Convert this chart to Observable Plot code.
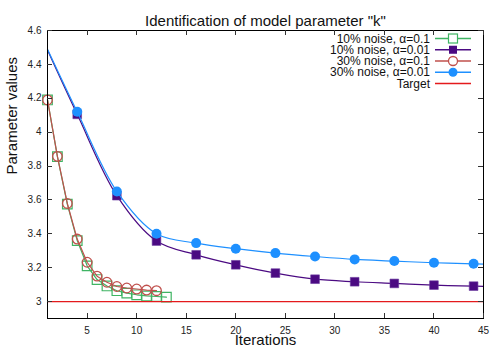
<!DOCTYPE html>
<html><head><meta charset="utf-8">
<script src="https://cdn.jsdelivr.net/npm/d3@7"></script>
<script src="https://cdn.jsdelivr.net/npm/@observablehq/plot@0.6"></script>
<style>
body{margin:0;background:#fff}
#wrap{position:relative;width:500px;height:350px}
#wrap svg{font-family:"Liberation Sans",Arial,sans-serif}
#legend{position:absolute;left:0;top:0}
</style>
</head><body><div id="wrap"></div>
<script>
// ---- data ----
const iterGreen = [1,2,3,4,5,6,7,8,9,10,11,12,13];
const noise10_a01 = [4.19,3.855,3.575,3.36,3.211,3.13,3.092,3.064,3.05,3.04,3.033,3.03,3.026];
const iterRed = [1,2,3,4,5,6,7,8,9,10,11,12];
const noise30_a01 = [4.19,3.857,3.579,3.369,3.232,3.15,3.114,3.089,3.08,3.074,3.068,3.064];
const iterSlow = [1,4,8,12,16,20,24,28,32,36,40,44,45];
const noise10_a001 = [4.485,4.105,3.625,3.357,3.276,3.217,3.168,3.132,3.117,3.107,3.097,3.091,3.09];
const noise30_a001 = [4.49,4.12,3.65,3.40,3.345,3.312,3.286,3.266,3.249,3.239,3.229,3.223,3.221];
const targetValue = 3;
const xTicks = [5,10,15,20,25,30,35,40,45];
const yTicks = [3,3.2,3.4,3.6,3.8,4,4.2,4.4,4.6];
const xDomain = [1,45];
const yDomain = [2.9,4.6];
const seriesNames = ["10% noise, \u03b1=0.1","10% noise, \u03b1=0.01","30% noise, \u03b1=0.1","30% noise, \u03b1=0.01","Target"];
const titleText = 'Identification of model parameter "k"';
const xLabel = "Iterations";
const yLabel = "Parameter values";

// ---- layout / styles ----
const W = 500, H = 350, mL = 47, mR = 17, mT = 30, mB = 32, TICK = 5;
const C = {green:"#3fb463", purple:"#4b0a82", red:"#c0504d", blue:"#1e90ff", target:"#e41a1c"};

const zip = (xs, ys) => xs.map((x,i)=>({x, y: ys[i]}));
const green = zip(iterGreen, noise10_a01);
const redS = zip(iterRed, noise30_a01);
const purple = zip(iterSlow, noise10_a001);
const blue = zip(iterSlow, noise30_a001);
const markerOnly = d => d.x % 4 === 0;
const fmt = d => String(+d.toFixed(2));

const chart = Plot.plot({
  width:W, height:H,
  marginLeft:mL, marginRight:mR, marginTop:mT, marginBottom:mB,
  style:{fontFamily:"'Liberation Sans', Arial, sans-serif", background:"white", color:"#222"},
  x:{domain:xDomain},
  y:{domain:yDomain},
  marks:[
    // green
    Plot.line(green, {x:"x", y:"y", stroke:C.green, strokeWidth:1.2}),
    Plot.dot(green, {x:"x", y:"y", symbol:"square", r:5.4, stroke:C.green, strokeWidth:1.2, fill:"none"}),
    // purple
    Plot.line(purple, {x:"x", y:"y", stroke:C.purple, strokeWidth:1.2, curve:"catmull-rom"}),
    Plot.dot(purple.filter(markerOnly), {x:"x", y:"y", symbol:"square", r:4.9, fill:C.purple, stroke:"#6a3aa0", strokeWidth:0.6}),
    // red
    Plot.line(redS, {x:"x", y:"y", stroke:C.red, strokeWidth:1.2}),
    Plot.dot(redS, {x:"x", y:"y", r:4.8, stroke:C.red, strokeWidth:1.3, fill:"none"}),
    // blue
    Plot.line(blue, {x:"x", y:"y", stroke:C.blue, strokeWidth:1.2, curve:"catmull-rom"}),
    Plot.dot(blue.filter(markerOnly), {x:"x", y:"y", r:5, fill:C.blue}),
    // target
    Plot.ruleY([targetValue], {stroke:C.target, strokeWidth:1.3}),
    // frame & axis labels
    Plot.frame({stroke:"#000", strokeWidth:1}),
    Plot.axisX({ticks:xTicks, anchor:"bottom", tickSize:0, tickPadding:8, fontSize:10, label:null, tickFormat:fmt}),
    Plot.axisY({ticks:yTicks, anchor:"left", tickSize:0, tickPadding:6, fontSize:10, label:null, tickFormat:fmt}),
    // texts
    Plot.text([titleText], {frameAnchor:"top", dy:-15, fontSize:15, fill:"#111"}),
    Plot.text([xLabel], {frameAnchor:"bottom", dy:26, fontSize:15, fill:"#111"}),
    Plot.text([yLabel], {frameAnchor:"left", dx:-35, rotate:-90, fontSize:15, fill:"#111"})
  ]
});
const wrap = document.getElementById("wrap");
wrap.appendChild(chart);

// ---- overlay: inward ticks (via Plot's scales) and legend ----
const sx = chart.scale("x"), sy = chart.scale("y");
const lg = d3.select(wrap).append("svg").attr("id","legend").attr("width",W).attr("height",H);
const yBot = sy.apply(yDomain[0]), yTop = sy.apply(yDomain[1]);
const xLeft = sx.apply(xDomain[0]), xRight = sx.apply(xDomain[1]);
const tg = lg.append("g").attr("stroke","#333").attr("stroke-width",1);
xTicks.forEach(t=>{
  const px = Math.round(sx.apply(t)) + 0.5;
  tg.append("line").attr("x1",px).attr("x2",px).attr("y1",yBot).attr("y2",yBot-TICK);
  tg.append("line").attr("x1",px).attr("x2",px).attr("y1",yTop).attr("y2",yTop+TICK);
});
yTicks.forEach(t=>{
  const py = Math.round(sy.apply(t)) + 0.5;
  tg.append("line").attr("y1",py).attr("y2",py).attr("x1",xLeft).attr("x2",xLeft+TICK);
  tg.append("line").attr("y1",py).attr("y2",py).attr("x1",xRight).attr("x2",xRight-TICK);
});

const legendColors = [C.green, C.purple, C.red, C.blue, C.target];
const legendMarks = ["sqOpen","sqFill","circOpen","circFill",null];
seriesNames.forEach((name,i)=>{
  const y = 38.5 + i*11.25;
  lg.append("text").attr("x",430).attr("y",y).attr("dy","0.35em").attr("text-anchor","end")
    .attr("font-size",12).attr("fill","#111").text(name);
  lg.append("line").attr("x1",435).attr("x2",471).attr("y1",y).attr("y2",y)
    .attr("stroke",legendColors[i]).attr("stroke-width",1.3);
  const m = legendMarks[i], cx = 453;
  if (m==="sqOpen") lg.append("rect").attr("x",cx-4.5).attr("y",y-4.5).attr("width",9).attr("height",9).attr("fill","white").attr("stroke",C.green).attr("stroke-width",1.2);
  if (m==="sqFill") lg.append("rect").attr("x",cx-4).attr("y",y-4).attr("width",8).attr("height",8).attr("fill",C.purple);
  if (m==="circOpen") lg.append("circle").attr("cx",cx).attr("cy",y).attr("r",4.5).attr("fill","white").attr("stroke",C.red).attr("stroke-width",1.3);
  if (m==="circFill") lg.append("circle").attr("cx",cx).attr("cy",y).attr("r",4.5).attr("fill",C.blue);
});
</script>
</body></html>
